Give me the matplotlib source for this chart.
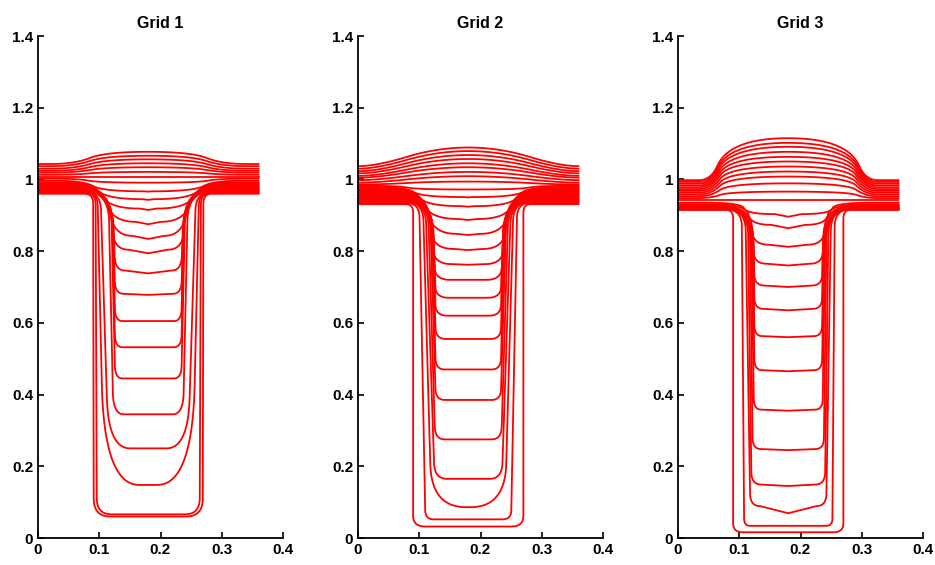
import numpy as np
import matplotlib
matplotlib.use("Agg")
import matplotlib.pyplot as plt
from matplotlib.ticker import FormatStrFormatter

plt.rcParams['font.family'] = ['Liberation Sans', 'DejaVu Sans']

XC = 0.18   # symmetry axis of the T
XR = 0.36   # right end of the top bar

# Each grid line, bottom to top:
#   edge   - level at x = 0 and x = 0.36
#   center - level at x = 0.18
#   xstart - x where the line leaves the edge level
#   wall_top / wall_bot - x of the left wall at the edge / centre level
#   xflat  - x where the bottom (or top) part begins
#   bend   - height of the lower corner
#   sag    - how far the centre sits below the sides of the bottom

# ---- Grid 1 ----
g1_edge = [0.960, 0.962, 0.964, 0.966, 0.968, 0.970, 0.972, 0.974, 0.976, 0.978,
           0.980, 0.983, 0.986, 0.989, 0.992, 0.996, 1.002,
           1.008, 1.013, 1.019, 1.024, 1.030, 1.037, 1.043]
g1_center = [0.060, 0.066, 0.148, 0.250, 0.345, 0.445, 0.532, 0.605, 0.678, 0.738,
             0.794, 0.834, 0.875, 0.915, 0.943, 0.966, 0.991,
             1.008, 1.021, 1.034, 1.045, 1.056, 1.066, 1.077]
g1_xstart = [0.076, 0.078, 0.078, 0.076, 0.074, 0.072, 0.070, 0.068, 0.066, 0.064,
             0.060, 0.056, 0.052, 0.046, 0.040, 0.034, 0.030,
             0.020, 0.020, 0.020, 0.020, 0.020, 0.020, 0.020]
g1_wall_top = [0.090, 0.094, 0.097, 0.102, 0.115, 0.119, 0.120, 0.121, 0.121, 0.121,
               0.118, 0.112, 0.104, 0.094, 0.084, 0.074, 0.066,
               0.060, 0.060, 0.060, 0.060, 0.060, 0.060, 0.060]
g1_wall_bot = [0.091, 0.096, 0.108, 0.115, 0.123, 0.126, 0.126, 0.126, 0.126, 0.126,
               0.124, 0.122, 0.120, 0.116, 0.112, 0.106, 0.100,
               0.110, 0.110, 0.110, 0.110, 0.110, 0.110, 0.110]
g1_xflat = [0.118, 0.120, 0.165, 0.150, 0.140, 0.138, 0.138, 0.138, 0.140, 0.142,
            0.148, 0.154, 0.160, 0.166, 0.170, 0.174, 0.176,
            0.180, 0.180, 0.180, 0.180, 0.180, 0.180, 0.180]
g1_bend = [0.05, 0.045, 0.28, 0.14, 0.06, 0.035, 0.035, 0.035, 0.035, 0.04,
           0.05, 1.0, 1.0, 1.0, 1.0, 1.0, 1.0,
           1.0, 1.0, 1.0, 1.0, 1.0, 1.0, 1.0]
g1_sag = [0.0, 0.0, 0.0, 0.0, 0.0, 0.0, 0.0, 0.0, 0.003, 0.008,
          0.010, 0.010, 0.010, 0.008, 0.006, 0.004, 0.0,
          0.0, 0.0, 0.0, 0.0, 0.0, 0.0, 0.0]

# ---- Grid 2 ----
g2_edge = [0.931, 0.934, 0.937, 0.940, 0.943, 0.946, 0.949, 0.952, 0.955, 0.958,
           0.961, 0.964, 0.967, 0.970, 0.973, 0.976, 0.979, 0.982, 0.986,
           0.991, 0.998, 1.005, 1.010, 1.017, 1.023, 1.030, 1.037]
g2_center = [0.032, 0.052, 0.086, 0.165, 0.275, 0.385, 0.470, 0.555, 0.620, 0.670,
             0.720, 0.762, 0.803, 0.845, 0.887, 0.924, 0.950, 0.972, 0.994,
             1.009, 1.021, 1.034, 1.045, 1.057, 1.068, 1.079, 1.089]
g2_xstart = [0.078, 0.080, 0.080, 0.078, 0.076, 0.074, 0.072, 0.070, 0.068, 0.066,
             0.064, 0.060, 0.056, 0.050, 0.044, 0.036, 0.028, 0.020, 0.000,
             0.000, 0.000, 0.000, 0.000, 0.000, 0.000, 0.000, 0.000]
g2_wall_top = [0.090, 0.100, 0.106, 0.110, 0.114, 0.117, 0.119, 0.120, 0.121, 0.121,
               0.120, 0.118, 0.114, 0.108, 0.100, 0.090, 0.078, 0.066, 0.040,
               0.030, 0.030, 0.030, 0.030, 0.030, 0.030, 0.030, 0.030]
g2_wall_bot = [0.090, 0.110, 0.120, 0.125, 0.126, 0.127, 0.127, 0.127, 0.127, 0.127,
               0.126, 0.124, 0.122, 0.120, 0.116, 0.110, 0.104, 0.098, 0.120,
               0.130, 0.130, 0.130, 0.130, 0.130, 0.130, 0.130, 0.130]
g2_xflat = [0.110, 0.124, 0.176, 0.145, 0.142, 0.142, 0.142, 0.144, 0.146, 0.148,
            0.150, 0.153, 0.156, 0.160, 0.164, 0.168, 0.172, 0.176, 0.180,
            0.180, 0.180, 0.180, 0.180, 0.180, 0.180, 0.180, 0.180]
g2_bend = [0.03, 0.025, 0.12, 0.045, 0.035, 0.03, 0.03, 0.03, 0.03, 0.03,
           0.035, 0.04, 0.05, 1.0, 1.0, 1.0, 1.0, 1.0, 1.0,
           1.0, 1.0, 1.0, 1.0, 1.0, 1.0, 1.0, 1.0]
g2_sag = [0.0, 0.0, 0.0, 0.0, 0.0, 0.0, 0.0, 0.0, 0.0, 0.0,
          0.0, 0.002, 0.004, 0.005, 0.005, 0.004, 0.003, 0.0, 0.0,
          0.0, 0.0, 0.0, 0.0, 0.0, 0.0, 0.0, 0.0]

# ---- Grid 3 ----
g3_edge = [0.915, 0.916, 0.917, 0.918, 0.919, 0.920, 0.921, 0.922, 0.923, 0.924,
           0.926, 0.928, 0.931, 0.935,
           0.943, 0.948, 0.953, 0.958, 0.963, 0.968, 0.973, 0.978, 0.983, 0.988,
           0.993, 0.998]
g3_center = [0.016, 0.034, 0.069, 0.145, 0.245, 0.355, 0.465, 0.560, 0.635, 0.700,
             0.760, 0.812, 0.864, 0.896,
             0.943, 0.966, 0.989, 1.008, 1.022, 1.036, 1.050, 1.063, 1.077, 1.091,
             1.102, 1.115]
g3_xstart = [0.078, 0.080, 0.080, 0.078, 0.076, 0.074, 0.072, 0.070, 0.068, 0.066,
             0.064, 0.060, 0.054, 0.048,
             0.034, 0.034, 0.034, 0.034, 0.034, 0.034, 0.034, 0.034, 0.034, 0.034,
             0.034, 0.034]
g3_wall_top = [0.090, 0.104, 0.110, 0.114, 0.117, 0.119, 0.120, 0.121, 0.122, 0.122,
               0.121, 0.118, 0.112, 0.104,
               0.054, 0.054, 0.054, 0.054, 0.054, 0.054, 0.054, 0.054, 0.054, 0.054,
               0.054, 0.054]
g3_wall_bot = [0.090, 0.108, 0.118, 0.120, 0.122, 0.124, 0.125, 0.125, 0.125, 0.125,
               0.124, 0.122, 0.118, 0.112,
               0.084, 0.084, 0.084, 0.084, 0.084, 0.084, 0.084, 0.084, 0.084, 0.084,
               0.084, 0.084]
g3_xflat = [0.106, 0.118, 0.134, 0.136, 0.136, 0.136, 0.138, 0.138, 0.140, 0.142,
            0.144, 0.148, 0.152, 0.158,
            0.180, 0.180, 0.180, 0.180, 0.180, 0.180, 0.180, 0.180, 0.180, 0.180,
            0.180, 0.180]
g3_bend = [0.025, 0.02, 0.035, 0.035, 0.03, 0.03, 0.03, 0.03, 0.03, 0.03,
           0.035, 0.04, 1.0, 1.0,
           1.0, 1.0, 1.0, 1.0, 1.0, 1.0, 1.0, 1.0, 1.0, 1.0,
           1.0, 1.0]
g3_sag = [0.0, 0.0, 0.020, 0.004, 0.003, 0.003, 0.003, 0.003, 0.004, 0.004,
          0.005, 0.006, 0.010, 0.010,
          0.0, 0.0, 0.0, 0.0, 0.0, 0.0, 0.0, 0.0, 0.0, 0.0,
          0.0, 0.0]

grids = [
    ('Grid 1', g1_edge, g1_center, g1_xstart, g1_wall_top, g1_wall_bot, g1_xflat, g1_bend, g1_sag),
    ('Grid 2', g2_edge, g2_center, g2_xstart, g2_wall_top, g2_wall_bot, g2_xflat, g2_bend, g2_sag),
    ('Grid 3', g3_edge, g3_center, g3_xstart, g3_wall_top, g3_wall_bot, g3_xflat, g3_bend, g3_sag),
]


def quad(p0, p1, p2, n=24):
    t = np.linspace(0, 1, n)[:, None]
    p0, p1, p2 = np.asarray(p0), np.asarray(p1), np.asarray(p2)
    return (1 - t) ** 2 * p0 + 2 * (1 - t) * t * p1 + t ** 2 * p2


def grid_line(e, c, xs, wt, wb, xf, bend, sag):
    h = abs(e - c)
    if h < 1e-4:
        return np.array([0.0, XR]), np.array([e, e])
    s = 1.0 if c < e else -1.0
    # a V-shaped bottom needs some room between xflat and the centre
    sag_eff = sag * min(1.0, (XC - xf) / 0.03) if c < e else 0.0
    cb = c + sag_eff
    hb = abs(e - cb)
    rty = min(2.0 * (wt - xs), 0.5 * hb)
    rby = min(bend, hb - rty)

    def wall_x(y):
        return wt + (wb - wt) * (e - y) / (e - cb)

    y1 = e - s * rty
    y2 = cb + s * rby
    top = quad([xs, e], [wt, e], [wall_x(y1), y1])
    bot = quad([wall_x(y2), y2], [wb, cb], [xf, cb])
    left = np.vstack([[0.0, e], top, bot, [XC, c]])
    right = left[::-1][1:].copy()
    right[:, 0] = XR - right[:, 0]
    pts = np.vstack([left, right])
    return pts[:, 0], pts[:, 1]


fig = plt.figure(figsize=(9.35, 5.65), dpi=100)
lefts = [38, 358, 678]
for (title, *cols), lp in zip(grids, lefts):
    ax = fig.add_axes([lp / 935, 27 / 565, 245 / 935, 502 / 565])
    for row in zip(*cols):
        x, y = grid_line(*row)
        ax.plot(x, y, color='#ff0000', lw=1.3, solid_joinstyle='round')
    ax.set_xlim(0, 0.4)
    ax.set_ylim(0, 1.4)
    ax.set_xticks([0, 0.1, 0.2, 0.3, 0.4])
    ax.set_yticks([0, 0.2, 0.4, 0.6, 0.8, 1.0, 1.2, 1.4])
    ax.xaxis.set_major_formatter(FormatStrFormatter('%g'))
    ax.yaxis.set_major_formatter(FormatStrFormatter('%g'))
    for side in ('top', 'right'):
        ax.spines[side].set_visible(False)
    for side in ('left', 'bottom'):
        ax.spines[side].set_linewidth(1.3)
    ax.tick_params(direction='in', length=4, width=1.2, labelsize=11)
    for lab in ax.get_xticklabels() + ax.get_yticklabels():
        lab.set_fontweight('bold')
    ax.set_title(title, fontsize=11.5, fontweight='bold', pad=6)

fig.savefig('out.png', dpi=100)
